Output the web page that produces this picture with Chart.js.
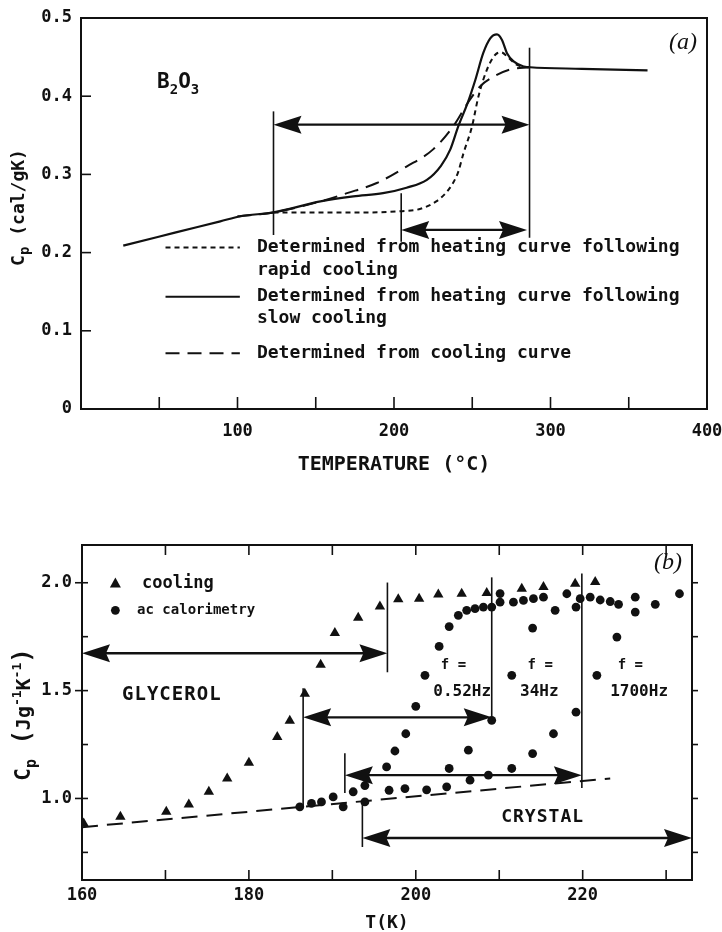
<!DOCTYPE html>
<html>
<head>
<meta charset="utf-8">
<script src="https://cdn.jsdelivr.net/npm/chart.js@4.4.0/dist/chart.umd.min.js"></script>
<style>
  html, body { margin: 0; padding: 0; background: #fff; }
  #wrapA { position: absolute; left: 0; top: 0; width: 722px; height: 480px; }
  #wrapB { position: absolute; left: 0; top: 480px; width: 722px; height: 452px; }
</style>
</head>
<body>
<div id="wrapA"><canvas id="chartA"></canvas></div>
<div id="wrapB"><canvas id="chartB"></canvas></div>
<script>
// ---------- panel (a) : B2O3 ----------
const slowT   = [27, 60, 89, 102, 123, 153, 174, 193, 208, 221, 230, 236, 241, 247, 252, 257, 261.5, 265.8, 269, 272.2, 276.4, 282.8, 287, 320, 362]
const slowCp  = [0.209, 0.2255, 0.240, 0.2465, 0.2514, 0.2655, 0.272, 0.276, 0.283, 0.293, 0.311, 0.332, 0.361, 0.391, 0.421, 0.455, 0.474, 0.479, 0.472, 0.455, 0.4445, 0.438, 0.437, 0.435, 0.433]
const rapidT  = [123, 153, 185, 204, 217, 227, 233, 238, 241, 244.4, 249.8, 254, 259.4, 264.7, 268.5, 273.2, 278.6, 286]
const rapidCp = [0.2514, 0.2514, 0.2514, 0.253, 0.256, 0.2655, 0.276, 0.290, 0.303, 0.327, 0.361, 0.400, 0.434, 0.453, 0.456, 0.449, 0.440, 0.437]
const coolT   = [100, 123, 153, 170, 189, 208, 225, 238, 247, 255, 264, 274, 287]
const coolCp  = [0.2465, 0.2514, 0.2655, 0.276, 0.289, 0.310, 0.332, 0.362, 0.391, 0.4126, 0.4253, 0.434, 0.437]

const xTicksA = [50, 100, 150, 200, 250, 300, 350]
const yTicksA = [0.1, 0.2, 0.3, 0.4]
// arrows: [from T, to T, Cp]   guide lines: [T, Cp low, Cp high]
const arrowsA = [[123, 286.6, 0.3636], [204.6, 285, 0.229]]
const guidesA = [[123, 0.2225, 0.3806], [204.6, 0.214, 0.276], [286.6, 0.219, 0.462]]

// ---------- panel (b) : glycerol ----------
const coolingT  = [160.2, 164.6, 170.1, 172.8, 175.2, 177.4, 180.0, 183.4, 184.9, 186.7, 188.6, 190.3, 193.1, 195.7, 197.9, 200.4, 202.7, 205.5, 208.5, 212.7, 215.3, 219.1, 221.5]
const coolingCp = [0.884, 0.915, 0.938, 0.972, 1.031, 1.093, 1.165, 1.285, 1.36, 1.486, 1.62, 1.767, 1.838, 1.89, 1.923, 1.926, 1.946, 1.949, 1.952, 1.972, 1.98, 1.995, 2.003]

const ac052T  = [186.1, 187.5, 188.7, 190.1, 191.3, 192.5, 193.9, 196.5, 197.5, 198.8, 200.0, 201.1, 202.8, 204.0, 205.1, 206.1, 207.1, 208.1, 209.1, 210.1, 210.1, 211.7, 212.9, 214.1, 215.3]
const ac052Cp = [0.961, 0.977, 0.984, 1.007, 0.961, 1.031, 0.984, 1.146, 1.22, 1.30, 1.427, 1.571, 1.705, 1.797, 1.849, 1.872, 1.88, 1.887, 1.887, 1.91, 1.95, 1.91, 1.918, 1.926, 1.933]
const ac34T   = [193.9, 196.8, 198.7, 201.3, 203.7, 204.0, 206.3, 209.1, 211.5, 214.0, 216.7, 218.1, 219.2, 219.7, 220.9, 222.1, 223.3, 224.3]
const ac34Cp  = [1.06, 1.038, 1.046, 1.04, 1.054, 1.139, 1.224, 1.362, 1.571, 1.79, 1.872, 1.949, 1.887, 1.926, 1.933, 1.92, 1.913, 1.90]
const ac1700T  = [206.5, 208.7, 211.5, 214.0, 216.5, 219.2, 221.7, 224.1, 226.3, 226.3, 228.7, 231.6]
const ac1700Cp = [1.085, 1.108, 1.139, 1.208, 1.30, 1.40, 1.571, 1.748, 1.864, 1.933, 1.90, 1.949]

const crystalT  = [160, 223.3]
const crystalCp = [0.867, 1.093]

const xTicksB = [170, 180, 190, 200, 210, 220, 230]
const yTicksB = [0.75, 1.0, 1.25, 1.5, 1.75, 2.0]
const arrowsB = [[160, 196.6, 1.673], [186.5, 209.1, 1.376], [191.5, 219.9, 1.108], [193.6, 233.1, 0.817]]
const guidesB = [[196.6, 1.585, 2.001], [186.5, 0.96, 1.511], [209.1, 1.363, 2.025], [191.5, 1.025, 1.21], [219.9, 1.048, 2.043], [193.6, 0.775, 0.983]]

const INK = '#111'
const MONO = '"DejaVu Sans Mono", monospace'

const pts = (xs, ys) => xs.map((x, i) => ({ x, y: ys[i] }))

const line = (ctx, x1, y1, x2, y2) => {
    ctx.beginPath()
    ctx.moveTo(x1, y1)
    ctx.lineTo(x2, y2)
    ctx.stroke()
}

const head = (ctx, tx, ty, dir) => {
    ctx.beginPath()
    ctx.moveTo(tx, ty)
    ctx.lineTo(tx - dir * 28, ty - 9)
    ctx.lineTo(tx - dir * 24, ty)
    ctx.lineTo(tx - dir * 28, ty + 9)
    ctx.closePath()
    ctx.fill()
}

const text = (ctx, str, x, y, size, align = 'left') => {
    ctx.font = `bold ${size}px ${MONO}`
    ctx.textAlign = align
    ctx.textBaseline = 'middle'
    ctx.fillText(str, x, y)
}

// pieces drawn one after another: [text, size, shift]
const pieces = (ctx, parts, x, y, center) => {
    ctx.textAlign = 'left'
    ctx.textBaseline = 'alphabetic'
    let w = 0
    parts.forEach(p => { ctx.font = `bold ${p[1]}px ${MONO}`; w += ctx.measureText(p[0]).width })
    let cx = center ? x - w / 2 : x
    parts.forEach(p => {
        ctx.font = `bold ${p[1]}px ${MONO}`
        ctx.fillText(p[0], cx, y + (p[2] || 0))
        cx += ctx.measureText(p[0]).width
    })
}

const drawArrows = (ctx, xs, ys, arrows, guides) => {
    ctx.lineWidth = 1.6
    guides.forEach(g => line(ctx, xs.getPixelForValue(g[0]), ys.getPixelForValue(g[1]), xs.getPixelForValue(g[0]), ys.getPixelForValue(g[2])))
    ctx.lineWidth = 2.4
    arrows.forEach(a => {
        const x1 = xs.getPixelForValue(a[0])
        const x2 = xs.getPixelForValue(a[1])
        const py = ys.getPixelForValue(a[2])
        line(ctx, x1 + 20, py, x2 - 20, py)
        head(ctx, x1, py, -1)
        head(ctx, x2, py, 1)
    })
}

const annotA = {
    id: 'annotA',
    afterDraw(chart) {
        const { ctx, chartArea: a, scales: { x, y } } = chart
        ctx.save()
        ctx.strokeStyle = INK
        ctx.fillStyle = INK
        ctx.lineWidth = 2
        ctx.strokeRect(a.left, a.top, a.right - a.left, a.bottom - a.top)
        ctx.lineWidth = 1.6
        xTicksA.forEach(v => { const px = x.getPixelForValue(v); line(ctx, px, a.bottom, px, a.bottom - 12) })
        yTicksA.forEach(v => { const py = y.getPixelForValue(v); line(ctx, a.left, py, a.left + 10, py) })

        drawArrows(ctx, x, y, arrowsA, guidesA)

        // legend inside the plot
        const sx1 = x.getPixelForValue(54), sx2 = x.getPixelForValue(101.5), tx = x.getPixelForValue(112.4)
        ctx.lineWidth = 2
        const rows = [[0.2066, [5, 4]], [0.1436, []], [0.0714, [14, 8]]]
        rows.forEach(r => {
            ctx.setLineDash(r[1])
            line(ctx, sx1, y.getPixelForValue(r[0]), sx2, y.getPixelForValue(r[0]))
        })
        ctx.setLineDash([])
        text(ctx, 'Determined from heating curve following', tx, y.getPixelForValue(0.2066), 18)
        text(ctx, 'rapid cooling', tx, y.getPixelForValue(0.1769), 18)
        text(ctx, 'Determined from heating curve following', tx, y.getPixelForValue(0.1436), 18)
        text(ctx, 'slow cooling', tx, y.getPixelForValue(0.1155), 18)
        text(ctx, 'Determined from cooling curve', tx, y.getPixelForValue(0.0714), 18)

        // B2O3
        pieces(ctx, [['B', 21], ['2', 14, 6], ['O', 21], ['3', 14, 6]], x.getPixelForValue(48.6), y.getPixelForValue(0.41), false)

        // (a)
        ctx.font = 'italic 24px "Liberation Serif", serif'
        ctx.textAlign = 'center'
        ctx.textBaseline = 'middle'
        ctx.fillText('(a)', a.right - 24, a.top + 25)

        // y title
        ctx.translate(24, (a.top + a.bottom) / 2 - 6)
        ctx.rotate(-Math.PI / 2)
        pieces(ctx, [['C', 18], ['p', 14, 5], [' (cal/gK)', 18]], 0, 0, true)
        ctx.restore()
    }
}

const annotB = {
    id: 'annotB',
    afterDraw(chart) {
        const { ctx, chartArea: a, scales: { x, y } } = chart
        ctx.save()
        ctx.strokeStyle = INK
        ctx.fillStyle = INK
        ctx.lineWidth = 2
        ctx.strokeRect(a.left, a.top, a.right - a.left, a.bottom - a.top)
        ctx.lineWidth = 1.6
        xTicksB.forEach(v => {
            const px = x.getPixelForValue(v)
            line(ctx, px, a.bottom, px, a.bottom - 10)
            line(ctx, px, a.top, px, a.top + 10)
        })
        yTicksB.forEach(v => {
            const py = y.getPixelForValue(v)
            line(ctx, a.left, py, a.left + 6, py)
            line(ctx, a.right, py, a.right + 6, py)
            if (v % 0.5 === 0) line(ctx, a.left - 7, py, a.left, py)
        })

        drawArrows(ctx, x, y, arrowsB, guidesB)

        // legend
        const lx = x.getPixelForValue(164)
        ctx.beginPath()
        const ty = y.getPixelForValue(1.997)
        ctx.moveTo(lx, ty - 6); ctx.lineTo(lx + 5.5, ty + 4); ctx.lineTo(lx - 5.5, ty + 4); ctx.closePath(); ctx.fill()
        ctx.beginPath()
        ctx.arc(lx, y.getPixelForValue(1.872), 4.4, 0, Math.PI * 2)
        ctx.fill()
        text(ctx, 'cooling', x.getPixelForValue(167.2), y.getPixelForValue(1.997), 17)
        text(ctx, 'ac calorimetry', x.getPixelForValue(166.6), y.getPixelForValue(1.872), 14)

        ctx.letterSpacing = '1px'
        text(ctx, 'GLYCEROL', x.getPixelForValue(164.8), y.getPixelForValue(1.478), 19)
        text(ctx, 'CRYSTAL', x.getPixelForValue(215.2), y.getPixelForValue(0.914), 18, 'center')
        ctx.letterSpacing = '0px'

        const freqs = [['0.52Hz', 202.1], ['34Hz', 212.5], ['1700Hz', 223.3]]
        freqs.forEach(f => {
            text(ctx, 'f =', x.getPixelForValue(f[1] + 0.9), y.getPixelForValue(1.617), 14)
            text(ctx, f[0], x.getPixelForValue(f[1]), y.getPixelForValue(1.492), 16)
        })

        ctx.font = 'italic 24px "Liberation Serif", serif'
        ctx.textAlign = 'center'
        ctx.textBaseline = 'middle'
        ctx.fillText('(b)', a.right - 24, a.top + 18)

        ctx.translate(30, (a.top + a.bottom) / 2 + 2)
        ctx.rotate(-Math.PI / 2)
        pieces(ctx, [['C', 21], ['p', 15, 6], [' (', 24], ['Jg', 20], ['-1', 13, -9], ['K', 20], ['-1', 13, -9], [')', 24]], 0, 0, true)
        ctx.restore()
    }
}

const tickFont = { family: MONO, size: 17, weight: 'bold' }

const chartA = new Chart(document.getElementById('chartA').getContext('2d'), {
    type: 'scatter',
    data: {
        datasets: [
            { label: 'rapid cooling', data: pts(rapidT, rapidCp), showLine: true, pointRadius: 0, borderColor: INK, borderWidth: 2, borderDash: [5, 4], cubicInterpolationMode: 'monotone' },
            { label: 'slow cooling', data: pts(slowT, slowCp), showLine: true, pointRadius: 0, borderColor: INK, borderWidth: 2.2, cubicInterpolationMode: 'monotone' },
            { label: 'cooling curve', data: pts(coolT, coolCp), showLine: true, pointRadius: 0, borderColor: INK, borderWidth: 2, borderDash: [14, 8], cubicInterpolationMode: 'monotone' }
        ]
    },
    options: {
        responsive: true,
        maintainAspectRatio: false,
        animation: false,
        events: [],
        layout: { padding: { left: 0, right: 15, top: 18, bottom: 0 } },
        plugins: { legend: { display: false }, tooltip: { enabled: false } },
        scales: {
            x: {
                type: 'linear', min: 0, max: 400,
                afterFit: s => { s.height = 71; s.paddingLeft = 0; s.paddingRight = 0 },
                afterBuildTicks: s => { s.ticks = [100, 200, 300, 400].map(v => ({ value: v })) },
                grid: { display: false, drawTicks: false },
                border: { display: false },
                ticks: { color: INK, font: tickFont, padding: 12, maxRotation: 0 },
                title: { display: true, text: 'TEMPERATURE (°C)', color: INK, font: { family: MONO, size: 20, weight: 'bold' }, padding: { top: 0, bottom: 3 } }
            },
            y: {
                min: 0, max: 0.5,
                afterFit: s => { s.width = 81; s.paddingTop = 0; s.paddingBottom = 0 },
                afterBuildTicks: s => { s.ticks = [0, 0.1, 0.2, 0.3, 0.4, 0.5].map(v => ({ value: v })) },
                grid: { display: false, drawTicks: false },
                border: { display: false },
                ticks: { color: INK, font: tickFont, padding: 9, callback: v => v === 0 ? '0' : v.toFixed(1) }
            }
        }
    },
    plugins: [annotA]
})

const chartB = new Chart(document.getElementById('chartB').getContext('2d'), {
    type: 'scatter',
    data: {
        datasets: [
            { label: 'cooling', data: pts(coolingT, coolingCp), pointStyle: 'triangle', pointRadius: 6, backgroundColor: INK, borderColor: INK, borderWidth: 0 },
            { label: 'f = 0.52Hz', data: pts(ac052T, ac052Cp), pointStyle: 'circle', pointRadius: 4.4, backgroundColor: INK, borderColor: INK, borderWidth: 0 },
            { label: 'f = 34Hz', data: pts(ac34T, ac34Cp), pointStyle: 'circle', pointRadius: 4.4, backgroundColor: INK, borderColor: INK, borderWidth: 0 },
            { label: 'f = 1700Hz', data: pts(ac1700T, ac1700Cp), pointStyle: 'circle', pointRadius: 4.4, backgroundColor: INK, borderColor: INK, borderWidth: 0 },
            { label: 'crystal', data: pts(crystalT, crystalCp), showLine: true, pointRadius: 0, borderColor: INK, borderWidth: 2, borderDash: [16, 9] }
        ]
    },
    options: {
        responsive: true,
        maintainAspectRatio: false,
        animation: false,
        events: [],
        layout: { padding: { left: 0, right: 30, top: 65, bottom: 0 } },
        plugins: { legend: { display: false }, tooltip: { enabled: false } },
        scales: {
            x: {
                type: 'linear', min: 160, max: 233.1,
                afterFit: s => { s.height = 52; s.paddingLeft = 0; s.paddingRight = 0 },
                afterBuildTicks: s => { s.ticks = [160, 180, 200, 220].map(v => ({ value: v })) },
                grid: { display: false, drawTicks: false },
                border: { display: false },
                ticks: { color: INK, font: tickFont, padding: 5, maxRotation: 0 },
                title: { display: true, text: 'T(K)', color: INK, font: { family: MONO, size: 18, lineHeight: 1, weight: 'bold' }, padding: { top: 0, bottom: 0 } }
            },
            y: {
                min: 0.622, max: 2.175,
                afterFit: s => { s.width = 82; s.paddingTop = 0; s.paddingBottom = 0 },
                afterBuildTicks: s => { s.ticks = [1.0, 1.5, 2.0].map(v => ({ value: v })) },
                grid: { display: false, drawTicks: false },
                border: { display: false },
                ticks: { color: INK, font: tickFont, padding: 10, callback: v => v.toFixed(1) }
            }
        }
    },
    plugins: [annotB]
})
</script>
</body>
</html>
